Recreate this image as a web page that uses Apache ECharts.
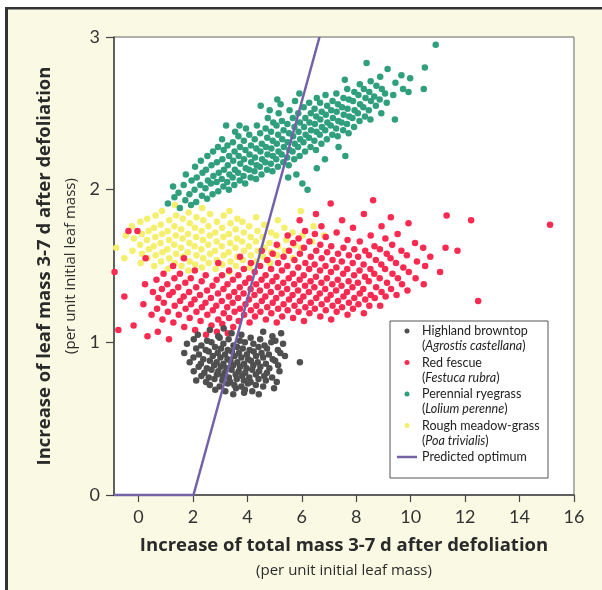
<!DOCTYPE html>
<html>
<head>
<meta charset="utf-8">
<script src="https://cdn.jsdelivr.net/npm/echarts@6/dist/echarts.min.js"></script>
<style>
  html, body { margin: 0; padding: 0; background: #fff; }
  #chart { width: 602px; height: 590px; }
</style>
</head>
<body>
<div id="chart"></div>
<script>
// tick labels
var xTicks = [0, 2, 4, 6, 8, 10, 12, 14, 16];

// names shown in the legend (common name, latin name)
var seriesNames = ['Highland browntop', 'Red fescue', 'Perennial ryegrass', 'Rough meadow-grass', 'Predicted optimum'];
var latinNames = ['Agrostis castellana', 'Festuca rubra', 'Lolium perenne', 'Poa trivialis', ''];

// predicted optimum line
var optimumX = [-0.9, 2.02, 6.65];
var optimumY = [0, 0, 3];

// Highland browntop (Agrostis castellana)
var browntop = [
  [2.62,1.08],[3.13,1.09],[4.58,1.07],
  [2.18,1.05],[2.93,1.04],[3.42,1.06],[3.78,1.05],[4.92,1.04],[5.24,1.06],
  [2.03,1.02],[2.52,1.01],[2.98,1.03],[3.31,1.02],[3.72,1.01],[4.12,1.03],[4.47,1.02],[5.03,1.01],
  [1.78,0.99],[2.31,0.98],[2.68,1.00],[3.12,0.99],[3.49,0.98],[3.91,1.00],[4.22,0.99],[4.63,0.98],[4.88,1.00],[5.31,0.99],
  [2.12,0.96],[2.47,0.95],[2.81,0.97],[3.03,0.96],[3.28,0.95],[3.62,0.97],[3.83,0.96],[4.08,0.95],[4.41,0.97],[4.72,0.96],[5.12,0.95],
  [1.68,0.93],[2.22,0.92],[2.58,0.94],[2.91,0.93],[3.18,0.92],[3.43,0.94],[3.69,0.93],[3.98,0.92],[4.23,0.94],[4.52,0.93],[4.79,0.92],[5.21,0.93],
  [2.02,0.90],[2.38,0.89],[2.73,0.91],[3.01,0.90],[3.27,0.89],[3.53,0.91],[3.78,0.90],[4.03,0.89],[4.32,0.91],[4.58,0.90],[4.93,0.89],[5.38,0.91],
  [1.88,0.87],[2.29,0.86],[2.62,0.88],[2.87,0.87],[3.12,0.86],[3.38,0.88],[3.63,0.87],[3.88,0.86],[4.13,0.88],[4.38,0.87],[4.68,0.86],[5.02,0.88],[5.93,0.87],
  [2.21,0.84],[2.51,0.83],[2.78,0.85],[3.02,0.84],[3.23,0.83],[3.48,0.85],[3.73,0.84],[3.97,0.83],[4.22,0.85],[4.48,0.84],[4.81,0.83],[5.13,0.85],
  [2.03,0.81],[2.42,0.80],[2.68,0.82],[2.93,0.81],[3.17,0.80],[3.42,0.82],[3.68,0.81],[3.92,0.80],[4.18,0.82],[4.43,0.81],[4.72,0.80],[5.18,0.81],
  [2.31,0.78],[2.58,0.77],[2.88,0.79],[3.09,0.78],[3.32,0.77],[3.57,0.79],[3.81,0.78],[4.07,0.77],[4.31,0.79],[4.62,0.78],[4.91,0.77],
  [2.12,0.75],[2.48,0.74],[2.79,0.76],[3.08,0.75],[3.37,0.74],[3.61,0.76],[3.87,0.75],[4.12,0.74],[4.41,0.76],[4.68,0.75],[5.08,0.74],
  [2.62,0.72],[2.98,0.71],[3.28,0.73],[3.52,0.72],[3.78,0.71],[4.02,0.73],[4.31,0.72],[4.58,0.71],
  [2.82,0.69],[3.19,0.68],[3.58,0.70],[3.91,0.69],[4.18,0.68],[4.98,0.70],
  [3.48,0.66],[3.88,0.67],[4.42,0.66]
];

// Red fescue (Festuca rubra)
var redFescue = [
  [-0.88,1.46],[-0.74,1.08],[-0.52,1.30],[-0.37,1.73],[-0.18,1.11],[-0.04,1.73],[0.26,1.55],[0.33,1.04],
  [0.18,1.25],[0.24,1.38],[0.48,1.18],[0.53,1.33],
  [0.68,1.22],[0.73,1.29],[0.66,1.41],[0.71,1.07],
  [0.88,1.15],[0.93,1.26],[0.86,1.35],[0.92,1.45],
  [1.08,1.20],[1.13,1.31],[1.06,1.38],[1.12,1.02],
  [1.28,1.13],[1.33,1.24],[1.26,1.33],[1.32,1.42],[1.27,1.50],
  [1.48,1.18],[1.53,1.27],[1.46,1.36],[1.52,1.45],
  [1.68,1.10],[1.73,1.22],[1.66,1.30],[1.72,1.39],[1.67,1.55],
  [1.88,1.16],[1.93,1.25],[1.86,1.33],[1.92,1.42],
  [2.08,1.08],[2.13,1.20],[2.06,1.28],[2.12,1.36],[2.07,1.47],
  [2.28,1.14],[2.33,1.23],[2.26,1.31],[2.32,1.40],
  [2.48,1.05],[2.53,1.18],[2.46,1.26],[2.52,1.34],[2.47,1.44],
  [2.68,1.11],[2.73,1.21],[2.66,1.29],[2.72,1.37],
  [2.88,1.07],[2.93,1.15],[2.86,1.24],[2.92,1.32],[2.87,1.41],[2.93,1.52],
  [3.08,1.12],[3.13,1.19],[3.06,1.27],[3.12,1.35],[3.07,1.44],
  [3.28,1.06],[3.33,1.16],[3.26,1.23],[3.32,1.30],[3.27,1.38],[3.33,1.47],
  [3.48,1.10],[3.53,1.20],[3.46,1.26],[3.52,1.33],[3.47,1.41],
  [3.68,1.14],[3.73,1.22],[3.66,1.29],[3.72,1.36],[3.67,1.44],[3.73,1.56],
  [3.88,1.18],[3.93,1.25],[3.86,1.32],[3.92,1.39],[3.87,1.48],
  [4.08,1.13],[4.13,1.21],[4.06,1.28],[4.12,1.35],[4.07,1.42],[4.13,1.52],
  [4.28,1.17],[4.33,1.24],[4.26,1.31],[4.32,1.38],[4.27,1.46],
  [4.48,1.20],[4.53,1.27],[4.46,1.34],[4.52,1.41],[4.47,1.50],[4.53,1.60],
  [4.68,1.15],[4.73,1.23],[4.66,1.30],[4.72,1.37],[4.67,1.44],[4.73,1.54],
  [4.88,1.19],[4.93,1.26],[4.86,1.33],[4.92,1.40],[4.87,1.48],[4.93,1.58],
  [5.08,1.13],[5.13,1.22],[5.06,1.29],[5.12,1.36],[5.07,1.43],[5.13,1.52],[5.08,1.64],
  [5.28,1.17],[5.33,1.25],[5.26,1.32],[5.32,1.39],[5.27,1.47],[5.33,1.56],
  [5.48,1.21],[5.53,1.28],[5.46,1.35],[5.52,1.42],[5.47,1.50],[5.53,1.60],[5.48,1.70],
  [5.68,1.16],[5.73,1.24],[5.66,1.31],[5.72,1.38],[5.67,1.45],[5.73,1.54],[5.68,1.65],
  [5.88,1.20],[5.93,1.27],[5.86,1.34],[5.92,1.41],[5.87,1.49],[5.93,1.58],[5.88,1.68],[5.92,1.80],
  [6.08,1.14],[6.13,1.23],[6.06,1.30],[6.12,1.37],[6.07,1.44],[6.13,1.52],[6.08,1.62],[6.12,1.73],
  [6.28,1.19],[6.33,1.26],[6.26,1.33],[6.32,1.40],[6.27,1.48],[6.33,1.56],[6.28,1.66],
  [6.48,1.22],[6.53,1.29],[6.46,1.36],[6.52,1.43],[6.47,1.51],[6.53,1.60],[6.48,1.71],[6.52,1.84],
  [6.68,1.17],[6.73,1.25],[6.66,1.32],[6.72,1.39],[6.67,1.47],[6.73,1.55],[6.68,1.64],[6.72,1.76],
  [6.88,1.21],[6.93,1.28],[6.86,1.35],[6.92,1.42],[6.87,1.50],[6.93,1.59],[6.88,1.69],
  [7.08,1.15],[7.13,1.24],[7.06,1.31],[7.12,1.38],[7.07,1.46],[7.13,1.54],[7.08,1.63],[7.06,1.91],
  [7.28,1.20],[7.33,1.27],[7.26,1.34],[7.32,1.41],[7.27,1.49],[7.33,1.58],[7.28,1.72],
  [7.48,1.23],[7.53,1.30],[7.46,1.37],[7.52,1.45],[7.47,1.53],[7.53,1.62],[7.48,1.80],
  [7.68,1.18],[7.73,1.26],[7.66,1.33],[7.72,1.40],[7.67,1.48],[7.73,1.57],[7.68,1.67],
  [7.88,1.22],[7.93,1.29],[7.86,1.36],[7.92,1.44],[7.87,1.52],[7.93,1.61],[7.88,1.75],
  [8.08,1.25],[8.13,1.32],[8.06,1.39],[8.12,1.47],[8.07,1.56],[8.13,1.66],
  [8.28,1.19],[8.33,1.28],[8.26,1.35],[8.32,1.43],[8.27,1.51],[8.33,1.60],[8.28,1.84],
  [8.48,1.24],[8.53,1.31],[8.46,1.40],[8.52,1.48],[8.47,1.57],[8.53,1.70],
  [8.68,1.29],[8.73,1.36],[8.66,1.45],[8.72,1.54],[8.67,1.63],[8.62,1.93],
  [8.88,1.24],[8.93,1.33],[8.86,1.42],[8.92,1.51],[8.87,1.61],[8.93,1.76],
  [9.08,1.30],[9.13,1.39],[9.06,1.48],[9.12,1.58],[9.07,1.68],
  [9.28,1.35],[9.33,1.45],[9.26,1.55],[9.32,1.64],[9.27,1.82],
  [9.48,1.31],[9.53,1.42],[9.46,1.52],[9.52,1.71],
  [9.68,1.38],[9.73,1.49],[9.66,1.60],
  [9.88,1.34],[9.93,1.46],[9.86,1.57],[9.92,1.78],
  [10.18,1.42],[10.23,1.53],[10.16,1.65],
  [10.48,1.38],[10.53,1.50],[10.46,1.62],
  [10.72,1.56],[11.08,1.46],[11.28,1.62],[11.32,1.83],[11.72,1.60],[12.22,1.80],[12.48,1.27],[15.12,1.77]
];

// Perennial ryegrass (Lolium perenne)
var ryegrass = [
  [1.08,1.91],[1.32,1.95],[1.27,2.02],[1.52,1.88],[1.47,1.98],
  [1.72,1.93],[1.66,2.03],[1.74,2.10],[1.93,1.90],[1.87,1.97],[1.95,2.06],
  [2.12,1.92],[2.06,2.00],[2.14,2.08],[2.08,2.15],
  [2.33,1.96],[2.27,2.03],[2.35,2.11],[2.29,2.19],
  [2.52,1.94],[2.46,2.01],[2.55,2.06],[2.48,2.13],[2.53,2.22],
  [2.72,1.97],[2.66,2.04],[2.75,2.09],[2.68,2.16],[2.74,2.25],
  [2.93,1.99],[2.87,2.05],[2.95,2.11],[2.88,2.18],[2.92,2.28],
  [3.12,2.02],[3.06,2.07],[3.14,2.13],[3.08,2.20],[3.13,2.26],[3.07,2.33],
  [3.32,2.00],[3.26,2.05],[3.34,2.10],[3.28,2.16],[3.33,2.22],[3.27,2.29],[3.22,2.42],
  [3.52,2.03],[3.46,2.08],[3.54,2.13],[3.48,2.19],[3.53,2.25],[3.47,2.31],[3.55,2.38],
  [3.72,2.06],[3.66,2.11],[3.74,2.17],[3.68,2.22],[3.73,2.28],[3.67,2.35],[3.71,2.42],
  [3.92,2.04],[3.86,2.09],[3.94,2.14],[3.88,2.20],[3.93,2.26],[3.87,2.32],[3.95,2.40],
  [4.12,2.08],[4.06,2.13],[4.14,2.18],[4.08,2.23],[4.13,2.29],[4.07,2.36],
  [4.32,2.07],[4.26,2.12],[4.34,2.16],[4.28,2.21],[4.33,2.27],[4.27,2.33],[4.35,2.42],
  [4.52,2.10],[4.46,2.15],[4.54,2.20],[4.48,2.25],[4.53,2.30],[4.47,2.37],[4.49,2.55],
  [4.72,2.13],[4.66,2.18],[4.74,2.23],[4.68,2.28],[4.73,2.34],[4.67,2.40],[4.75,2.47],[4.82,2.52],
  [4.92,2.12],[4.86,2.17],[4.94,2.22],[4.88,2.27],[4.93,2.32],[4.87,2.38],[4.95,2.44],
  [5.12,2.15],[5.06,2.20],[5.14,2.25],[5.08,2.30],[5.13,2.36],[5.07,2.42],[5.15,2.50],[5.10,2.59],
  [5.32,2.18],[5.26,2.23],[5.34,2.28],[5.28,2.33],[5.33,2.39],[5.27,2.45],[5.22,2.56],
  [5.52,2.16],[5.46,2.21],[5.54,2.26],[5.48,2.31],[5.53,2.37],[5.47,2.43],[5.55,2.52],[5.50,2.08],
  [5.72,2.20],[5.66,2.25],[5.74,2.30],[5.68,2.35],[5.73,2.41],[5.67,2.47],[5.75,2.58],[5.80,2.10],
  [5.92,2.22],[5.86,2.28],[5.94,2.33],[5.88,2.38],[5.93,2.44],[5.87,2.50],[5.91,2.63],
  [6.12,2.25],[6.06,2.31],[6.14,2.36],[6.08,2.41],[6.13,2.47],[6.07,2.54],[6.02,2.04],[6.21,2.00],
  [6.32,2.28],[6.26,2.34],[6.34,2.39],[6.28,2.44],[6.33,2.50],[6.27,2.57],
  [6.52,2.26],[6.46,2.32],[6.54,2.38],[6.48,2.43],[6.53,2.48],[6.47,2.53],[6.55,2.60],[6.55,2.14],
  [6.72,2.30],[6.66,2.36],[6.74,2.41],[6.68,2.46],[6.73,2.51],[6.67,2.57],
  [6.92,2.33],[6.86,2.39],[6.94,2.44],[6.88,2.49],[6.93,2.55],[6.87,2.62],[6.85,2.20],
  [7.12,2.36],[7.06,2.42],[7.14,2.47],[7.08,2.52],[7.13,2.58],
  [7.32,2.35],[7.26,2.40],[7.34,2.45],[7.28,2.51],[7.33,2.56],[7.27,2.63],[7.35,2.28],
  [7.52,2.39],[7.46,2.44],[7.54,2.49],[7.48,2.54],[7.53,2.60],[7.58,2.72],[7.60,2.22],
  [7.72,2.37],[7.66,2.43],[7.74,2.48],[7.68,2.53],[7.73,2.59],[7.67,2.66],
  [7.92,2.41],[7.86,2.47],[7.94,2.52],[7.88,2.58],[7.93,2.64],
  [8.12,2.45],[8.06,2.50],[8.14,2.56],[8.08,2.62],[8.13,2.69],
  [8.32,2.48],[8.26,2.54],[8.34,2.60],[8.28,2.66],[8.38,2.83],
  [8.52,2.46],[8.46,2.52],[8.54,2.58],[8.48,2.64],[8.53,2.71],
  [8.72,2.55],[8.66,2.61],[8.74,2.68],
  [8.92,2.50],[8.86,2.59],[8.94,2.66],[8.88,2.74],
  [9.12,2.57],[9.06,2.63],[9.15,2.79],
  [9.42,2.46],[9.36,2.62],[9.44,2.70],
  [9.72,2.66],[9.66,2.75],[9.92,2.64],[9.98,2.73],
  [10.48,2.66],[10.52,2.80],[10.92,2.95]
];

// Rough meadow-grass (Poa trivialis)
var meadowGrass = [
  [-0.82,1.62],[-0.52,1.55],[-0.47,1.70],
  [-0.22,1.60],[-0.17,1.68],[-0.24,1.76],
  [0.08,1.52],[0.13,1.58],[0.06,1.64],[0.12,1.71],[0.07,1.79],
  [0.33,1.55],[0.38,1.61],[0.31,1.67],[0.37,1.73],[0.32,1.81],
  [0.58,1.50],[0.63,1.57],[0.56,1.63],[0.62,1.69],[0.57,1.75],[0.63,1.83],
  [0.83,1.53],[0.88,1.59],[0.81,1.65],[0.87,1.71],[0.82,1.77],[0.86,1.86],
  [1.08,1.48],[1.13,1.55],[1.06,1.61],[1.12,1.67],[1.07,1.73],[1.13,1.80],
  [1.33,1.52],[1.38,1.58],[1.31,1.64],[1.37,1.70],[1.32,1.76],[1.38,1.83],[1.34,1.90],
  [1.58,1.50],[1.63,1.56],[1.56,1.62],[1.62,1.68],[1.57,1.74],[1.63,1.81],
  [1.83,1.47],[1.88,1.53],[1.81,1.59],[1.87,1.65],[1.82,1.71],[1.88,1.78],[1.84,1.85],
  [2.08,1.51],[2.13,1.57],[2.06,1.63],[2.12,1.69],[2.07,1.75],[2.13,1.82],
  [2.33,1.49],[2.38,1.55],[2.31,1.61],[2.37,1.67],[2.32,1.73],[2.38,1.80],[2.34,1.88],
  [2.58,1.52],[2.63,1.58],[2.56,1.64],[2.62,1.70],[2.57,1.76],[2.63,1.84],
  [2.83,1.48],[2.88,1.54],[2.81,1.60],[2.87,1.66],[2.82,1.72],[2.88,1.79],
  [3.08,1.51],[3.13,1.57],[3.06,1.63],[3.12,1.69],[3.07,1.75],[3.13,1.83],
  [3.33,1.46],[3.38,1.53],[3.31,1.59],[3.37,1.65],[3.32,1.71],[3.38,1.78],[3.34,1.86],
  [3.58,1.50],[3.63,1.56],[3.56,1.62],[3.62,1.68],[3.57,1.74],[3.63,1.81],
  [3.83,1.54],[3.88,1.60],[3.81,1.66],[3.87,1.72],[3.82,1.79],
  [4.08,1.49],[4.13,1.57],[4.06,1.63],[4.12,1.69],[4.07,1.76],
  [4.33,1.53],[4.38,1.60],[4.31,1.66],[4.37,1.73],[4.32,1.82],
  [4.58,1.56],[4.63,1.62],[4.56,1.69],[4.62,1.77],
  [4.83,1.52],[4.88,1.59],[4.81,1.65],[4.87,1.72],
  [5.08,1.57],[5.13,1.63],[5.06,1.70],[5.12,1.80],
  [5.38,1.60],[5.43,1.67],[5.36,1.75],
  [5.68,1.55],[5.73,1.64],[5.66,1.72],
  [5.98,1.62],[6.03,1.70],[5.96,1.86],
  [6.38,1.66],[6.43,1.76],[6.82,1.70]
];

var colors = ['#4f4f4f', '#fb2a50', '#2f9f7d', '#f5ef6e', '#7461a8'];
var font = 'Lato, "DejaVu Sans", sans-serif';
var titleFont = '"Open Sans", Lato, sans-serif';

var optimumLine = optimumX.map(function (x, i) { return [x, optimumY[i]]; });

function scatter(name, data, color) {
    return {
        name: name,
        type: 'scatter',
        data: data,
        symbol: 'circle',
        symbolSize: 6.5,
        itemStyle: { color: color, opacity: 1 },
        silent: true
    };
}

var legendData = seriesNames.map(function (name, i) {
    if (i === 4) {
        return { name: name, icon: 'path://M0,0L20,0L20,2.5L0,2.5Z' };
    }
    return { name: name, icon: 'circle' };
});

var chart = echarts.init(document.getElementById('chart'));
chart.setOption({
    animation: false,
    backgroundColor: '#fafae4',
    textStyle: { fontFamily: font },
    graphic: [
        // page frame
        { type: 'rect', shape: { x: 0, y: 0, width: 602, height: 7 }, style: { fill: '#fff' }, z: -1 },
        { type: 'rect', shape: { x: 0, y: 0, width: 5, height: 590 }, style: { fill: '#fff' }, z: -1 },
        { type: 'rect', shape: { x: 5, y: 7, width: 597, height: 2.5 }, style: { fill: '#333' }, z: -1 },
        { type: 'rect', shape: { x: 5, y: 7, width: 3, height: 583 }, style: { fill: '#333' }, z: -1 },
        // legend box
        { type: 'rect', shape: { x: 390, y: 321, width: 158, height: 157 }, style: { fill: '#fff', stroke: '#555', lineWidth: 1 }, z: 3 }
    ],
    grid: {
        left: 114, top: 37, right: 28, bottom: 95,
        show: true, backgroundColor: '#fff', borderColor: '#666', borderWidth: 1
    },
    legend: {
        data: legendData,
        orient: 'vertical',
        left: 390, top: 310,
        padding: [0, 0, 0, 7],
        itemWidth: 20, itemHeight: 5,
        itemGap: -11,
        selectedMode: false,
        z: 4,
        formatter: function (name) {
            var latin = latinNames[seriesNames.indexOf(name)];
            if (latin) {
                return '{e| }\n{n|' + name + '}\n{p|(}{i|' + latin + '}{p|)}';
            }
            return '{e| }\n{n|' + name + '}\n{e| }';
        },
        textStyle: {
            rich: {
                e: { fontSize: 12, lineHeight: 15 },
                n: { fontSize: 12.5, lineHeight: 15, color: '#222', fontFamily: font },
                p: { fontSize: 12.5, lineHeight: 15, color: '#222', fontFamily: font },
                i: { fontSize: 12.5, lineHeight: 15, color: '#222', fontStyle: 'italic', fontFamily: font }
            }
        }
    },
    xAxis: {
        type: 'value',
        min: -0.9, max: 16,
        splitLine: { show: false },
        axisLine: { onZero: false, lineStyle: { color: '#444', width: 1.5 } },
        axisTick: { customValues: xTicks, length: 7, lineStyle: { color: '#444', width: 1.2 } },
        axisLabel: { customValues: xTicks, fontSize: 18, color: '#333', margin: 13 },
        name: '{a|Increase of total mass 3-7 d after defoliation}\n{b|(per unit initial leaf mass)}',
        nameLocation: 'middle',
        nameGap: 39,
        nameTextStyle: {
            rich: {
                a: { fontSize: 18.5, fontWeight: 'bold', color: '#2a2a2a', lineHeight: 24, fontFamily: titleFont },
                b: { fontSize: 15, color: '#2a2a2a', lineHeight: 26, fontFamily: titleFont }
            }
        }
    },
    yAxis: {
        type: 'value',
        min: 0, max: 3, interval: 1,
        splitLine: { show: false },
        axisLine: { onZero: false, lineStyle: { color: '#444', width: 1.5 } },
        axisTick: { length: 8, lineStyle: { color: '#444', width: 1.2 } },
        axisLabel: { fontSize: 18, color: '#333', margin: 14 },
        name: '{a|Increase of leaf mass 3-7 d after defoliation}\n{b|(per unit initial leaf mass)}',
        nameLocation: 'middle',
        nameGap: 29,
        nameTextStyle: {
            rich: {
                a: { fontSize: 18.5, fontWeight: 'bold', color: '#2a2a2a', lineHeight: 26, fontFamily: titleFont },
                b: { fontSize: 15, color: '#2a2a2a', lineHeight: 26, fontFamily: titleFont }
            }
        }
    },
    series: [
        scatter(seriesNames[3], meadowGrass, colors[3]),
        scatter(seriesNames[2], ryegrass, colors[2]),
        scatter(seriesNames[1], redFescue, colors[1]),
        scatter(seriesNames[0], browntop, colors[0]),
        {
            name: seriesNames[4],
            type: 'line',
            data: optimumLine,
            symbol: 'none',
            clip: false,
            silent: true,
            z: 5,
            lineStyle: { color: colors[4], width: 2.5 },
            itemStyle: { color: colors[4] }
        }
    ]
});
</script>
</body>
</html>
